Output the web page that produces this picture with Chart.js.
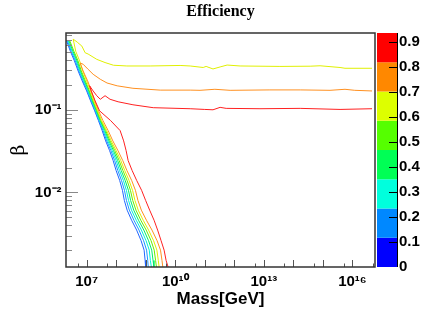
<!DOCTYPE html>
<html lang="en">

<head>
    <meta charset="UTF-8" />
    <title>Efficiency</title>
    <script src="https://cdn.jsdelivr.net/npm/chart.js"></script>
    <style>
        html, body { margin: 0; padding: 0; background: #ffffff; }
    </style>
</head>

<body>
    <canvas id="grafico" width="441" height="315"></canvas>

    <script>
        // axis ranges
        var massMin = 2.0e6, massMax = 5.8e16;
        var betaMin = 0.00125, betaMax = 0.85;

        // contour levels of the efficiency (colour bar) and its labels
        var levels = [0, 0.117, 0.234, 0.351, 0.468, 0.585, 0.702, 0.819, 0.936];
        var zTickValues = [0, 0.1, 0.2, 0.3, 0.4, 0.5, 0.6, 0.7, 0.8, 0.9];
        var massTickExps = [7, 10, 13, 16];
        var betaTickExps = [-1, -2];

        // beta values shared by the lines of the steep bundle (top to bottom)
        var betaGrid = [0.68, 0.51, 0.39, 0.295, 0.224, 0.169, 0.128, 0.097, 0.074, 0.056, 0.042, 0.032,
            0.0243, 0.0184, 0.014, 0.0106, 0.008, 0.0061, 0.0046, 0.0035, 0.0026, 0.002, 0.0015, 0.00125];

        // mass [GeV] of each contour along betaGrid
        var massLevel0 = [2.10e6, 2.81e6, 3.86e6, 5.15e6, 7.05e6, 1.00e7, 1.36e7, 1.87e7, 2.51e7, 3.35e7, 4.40e7, 6.00e7,
            7.89e7, 9.95e7, 1.31e8, 1.63e8, 1.89e8, 2.35e8, 3.33e8, 4.92e8, 6.98e8, 8.83e8, 9.55e8, 9.93e8];
        var massLevel1 = [2.24e6, 3.01e6, 4.15e6, 5.48e6, 7.50e6, 1.06e7, 1.43e7, 1.95e7, 2.62e7, 3.60e7, 4.79e7, 6.64e7,
            8.87e7, 1.14e8, 1.51e8, 1.91e8, 2.22e8, 2.79e8, 3.99e8, 5.93e8, 8.49e8, 1.07e9, 1.17e9, 1.22e9];
        var massLevel2 = [2.38e6, 3.23e6, 4.45e6, 5.83e6, 7.98e6, 1.11e7, 1.50e7, 2.05e7, 2.75e7, 3.85e7, 5.21e7, 7.35e7,
            9.98e7, 1.30e8, 1.75e8, 2.22e8, 2.62e8, 3.31e8, 4.78e8, 7.14e8, 1.03e9, 1.32e9, 1.44e9, 1.55e9];
        var massLevel3 = [2.54e6, 3.46e6, 4.76e6, 6.21e6, 8.49e6, 1.18e7, 1.57e7, 2.15e7, 2.88e7, 4.13e7, 5.69e7, 8.13e7,
            1.12e8, 1.48e8, 2.01e8, 2.60e8, 3.08e8, 3.93e8, 5.71e8, 8.63e8, 1.25e9, 1.60e9, 1.77e9, 1.90e9];
        var massLevel4 = [2.70e6, 3.72e6, 5.12e6, 6.61e6, 9.04e6, 1.24e7, 1.64e7, 2.25e7, 3.02e7, 4.44e7, 6.19e7, 8.99e7,
            1.26e8, 1.69e8, 2.33e8, 3.04e8, 3.63e8, 4.67e8, 6.82e8, 1.04e9, 1.52e9, 1.94e9, 2.16e9, 2.31e9];
        // lower branches of the three top levels start further down the grid
        var massLevel5Low = [4.28e6, 5.79e6, 7.38e6, 1.00e7, 1.35e7, 1.75e7, 2.36e7, 3.21e7, 4.80e7, 6.81e7, 1.00e8,
            1.43e8, 1.95e8, 2.72e8, 3.58e8, 4.32e8, 5.58e8, 8.24e8, 1.25e9, 1.85e9, 2.39e9, 2.67e9, 2.84e9];
        var massLevel6Low = [7.60e6, 1.08e7, 1.45e7, 1.89e7, 2.55e7, 3.56e7, 5.35e7, 7.71e7, 1.15e8, 1.67e8, 2.31e8,
            3.33e8, 4.49e8, 5.45e8, 7.11e8, 1.06e9, 1.63e9, 2.43e9, 3.17e9, 3.56e9, 3.79e9];
        var massLevel7Low = [1.42e7, 1.94e7, 2.75e7, 6.49e7, 1.36e8, 1.79e8, 2.17e8, 2.54e8, 3.47e8, 4.92e8, 7.26e8,
            9.93e8, 1.36e9, 1.92e9, 2.53e9, 3.32e9, 4.20e9, 4.90e9, 5.73e9];

        // flat upper branches, from the right edge back to the corner
        var massLevel5High = [4.6e16, 5.6e15, 3.8e15, 8.0e14, 3.7e14, 3.5e13, 1.57e12, 5.7e11, 3.3e11, 1.9e11, 1.11e11,
            8.8e10, 3.2e10, 1.46e10, 1.41e9, 2.3e8, 8.1e7, 4.2e7, 2.2e7, 1.12e7, 8.9e6, 6.9e6, 4.8e6, 3.5e6];
        var betaLevel5High = [0.318, 0.318, 0.325, 0.341, 0.337, 0.335, 0.339, 0.348, 0.330, 0.312, 0.335,
            0.325, 0.339, 0.344, 0.339, 0.339, 0.346, 0.373, 0.408, 0.473, 0.490, 0.590, 0.659, 0.716];
        var massLevel6High = [4.6e16, 1.2e16, 5.6e15, 1.74e15, 1.7e14, 1.6e13, 7.2e11, 2.2e11, 6.9e10, 3.2e10, 3.1e9,
            3.7e8, 1.08e8, 4.9e7, 2.9e7, 1.66e7, 1.12e7, 7.6e6, 6.0e6];
        var betaLevel6High = [0.169, 0.172, 0.177, 0.172, 0.174, 0.174, 0.172, 0.177, 0.172, 0.173, 0.173,
            0.182, 0.195, 0.211, 0.234, 0.269, 0.309, 0.356, 0.368];
        var massLevel7High = [4.6e16, 3.8e15, 1.7e14, 7.4e12, 5.3e11, 3.3e11, 1.9e11, 1.0e11, 3.2e10, 1.8e9, 3.7e8,
            1.16e8, 6.2e7, 4.2e7, 2.9e7, 2.2e7, 1.66e7, 1.26e7];
        var betaLevel7High = [0.103, 0.101, 0.104, 0.103, 0.104, 0.107, 0.100, 0.101, 0.103, 0.106, 0.115,
            0.125, 0.134, 0.148, 0.134, 0.148, 0.169, 0.195];

        var levelColors = ['#0000ff', '#0088ff', '#00ffdd', '#00ff55', '#55ff00', '#ddff00', '#ff8800', '#ff0000'];
        var lineColors = ['#2266ff', '#1a96ff', '#00f0d8', '#00ee66', '#66ee00', '#e0f000', '#ff9020', '#ff2020'];
        var fonteEixo = 'Liberation Sans, Arial, Helvetica, sans-serif';

        var supMap = { '0': '⁰', '1': '¹', '2': '²', '3': '³', '4': '⁴', '5': '⁵', '6': '⁶', '7': '⁷', '8': '⁸', '9': '⁹', '-': '⁻' };
        function pow10Label(e) {
            return '10' + String(e).split('').map(function (c) { return supMap[c]; }).join('');
        }

        function pts(masses, betas) {
            return masses.map(function (m, i) { return { x: m, y: betas[i] }; });
        }

        var contours = [
            pts(massLevel0, betaGrid),
            pts(massLevel1, betaGrid),
            pts(massLevel2, betaGrid),
            pts(massLevel3, betaGrid),
            pts(massLevel4, betaGrid),
            pts(massLevel5High, betaLevel5High).concat(pts(massLevel5Low, betaGrid.slice(1))),
            pts(massLevel6High, betaLevel6High).concat(pts(massLevel6Low, betaGrid.slice(3))),
            pts(massLevel7High, betaLevel7High).concat(pts(massLevel7Low, betaGrid.slice(5)))
        ];

        // higher levels are drawn on top, like ROOT does
        var datasets = contours.map(function (d, i) {
            return {
                label: 'z = ' + levels[i],
                data: d,
                showLine: true,
                borderColor: lineColors[i],
                borderWidth: 1,
                pointRadius: 0,
                tension: 0,
                order: contours.length - i
            };
        });

        // frame, inward ticks (ROOT style) and the colour palette
        var moldura = {
            id: 'moldura',
            afterDatasetsDraw: function (chart) {
                var ctx = chart.ctx, a = chart.chartArea;
                var sx = chart.scales.x, sy = chart.scales.y;
                ctx.save();
                ctx.lineWidth = 1;
                ctx.strokeStyle = '#555';
                sx.ticks.forEach(function (t) {
                    var px = Math.round(sx.getPixelForValue(t.value)) + 0.5;
                    ctx.beginPath();
                    ctx.moveTo(px, a.bottom);
                    ctx.lineTo(px, a.bottom - (t.big ? 7 : 3.5));
                    ctx.stroke();
                });
                ctx.strokeStyle = '#888';
                sy.ticks.forEach(function (t) {
                    var py = Math.round(sy.getPixelForValue(t.value)) + 0.5;
                    ctx.beginPath();
                    ctx.moveTo(a.left, py);
                    ctx.lineTo(a.left + (t.big ? 12 : 6), py);
                    ctx.stroke();
                });
                ctx.strokeStyle = '#333';
                ctx.lineWidth = 1.5;
                ctx.strokeRect(a.left, a.top, a.right - a.left, a.bottom - a.top);
                ctx.restore();
            },
            afterDraw: function (chart) {
                var ctx = chart.ctx, sz = chart.scales.z;
                var x0 = sz.left + 2, w = 20;
                ctx.save();
                for (var i = 0; i < levelColors.length; i++) {
                    var yA = sz.getPixelForValue(levels[i]);
                    var yB = sz.getPixelForValue(levels[i + 1]);
                    ctx.fillStyle = levelColors[i];
                    ctx.fillRect(x0, yB, w, yA - yB);
                }
                ctx.strokeStyle = '#000';
                ctx.lineWidth = 1;
                ctx.beginPath();
                ctx.moveTo(x0 + w + 0.5, sz.top);
                ctx.lineTo(x0 + w + 0.5, sz.bottom);
                ctx.stroke();
                sz.ticks.forEach(function (t) {
                    if (t.value === 0) return;
                    var py = Math.round(sz.getPixelForValue(t.value)) + 0.5;
                    ctx.beginPath();
                    ctx.moveTo(x0 + w - 8, py);
                    ctx.lineTo(x0 + w, py);
                    ctx.stroke();
                });
                ctx.restore();
            }
        };

        new Chart(document.getElementById('grafico'), {
            type: 'scatter',
            data: { datasets: datasets },
            plugins: [moldura],
            options: {
                responsive: false,
                animation: false,
                devicePixelRatio: 1,
                layout: { padding: 0 },
                plugins: {
                    legend: { display: false },
                    tooltip: { enabled: false },
                    title: {
                        display: true,
                        text: 'Efficiency',
                        color: '#000',
                        font: { family: 'Liberation Serif, Times New Roman, serif', weight: 'bold', size: 16 },
                        padding: { top: 1, bottom: 11.8 }
                    }
                },
                scales: {
                    x: {
                        type: 'logarithmic',
                        position: 'bottom',
                        min: massMin,
                        max: massMax,
                        afterBuildTicks: function (scale) {
                            var t = [];
                            for (var e = 6; e <= 16; e++) {
                                var a = Math.pow(10, e), b = 5 * Math.pow(10, e);
                                if (a >= scale.min && a <= scale.max) t.push({ value: a, big: true });
                                if (b >= scale.min && b <= scale.max) t.push({ value: b });
                            }
                            scale.ticks = t;
                        },
                        afterFit: function (scale) { scale.height = 48; },
                        grid: { display: false, drawTicks: false },
                        border: { display: false },
                        ticks: {
                            autoSkip: false,
                            maxRotation: 0,
                            padding: 6,
                            color: '#000',
                            font: { family: fonteEixo, weight: 'bold', size: 15 },
                            callback: function (v) {
                                var e = Math.round(Math.log10(v));
                                if (Math.abs(v / Math.pow(10, e) - 1) < 1e-6 && massTickExps.indexOf(e) >= 0) return pow10Label(e);
                                return '';
                            }
                        },
                        title: {
                            display: true,
                            text: 'Mass[GeV]',
                            color: '#000',
                            font: { family: fonteEixo, weight: 'bold', size: 17 },
                            padding: { top: 0, bottom: 5 }
                        }
                    },
                    y: {
                        type: 'logarithmic',
                        position: 'left',
                        min: betaMin,
                        max: betaMax,
                        afterBuildTicks: function (scale) {
                            var t = [];
                            for (var e = -3; e <= -1; e++) {
                                for (var m = 1; m <= 9; m++) {
                                    var v = m * Math.pow(10, e);
                                    if (v >= scale.min && v <= scale.max) t.push({ value: v, big: m === 1 });
                                }
                            }
                            scale.ticks = t;
                        },
                        afterFit: function (scale) { scale.width = 66; },
                        grid: { display: false, drawTicks: false },
                        border: { display: false },
                        ticks: {
                            autoSkip: false,
                            padding: 4.5,
                            color: '#000',
                            font: { family: fonteEixo, weight: 'bold', size: 15 },
                            callback: function (v) {
                                var e = Math.floor(Math.log10(v) + 1e-9);
                                var m = Math.round(v / Math.pow(10, e));
                                if (m === 1 && betaTickExps.indexOf(e) >= 0) return pow10Label(e);
                                return '';
                            }
                        },
                        title: {
                            display: true,
                            text: 'β',
                            color: '#000',
                            font: { family: 'DejaVu Serif, serif', size: 19 },
                            padding: { top: 8, bottom: 0 }
                        }
                    },
                    z: {
                        type: 'linear',
                        axis: 'y',
                        position: 'right',
                        min: levels[0],
                        max: levels[levels.length - 1],
                        afterBuildTicks: function (scale) {
                            scale.ticks = zTickValues.map(function (v) { return { value: v }; });
                        },
                        afterFit: function (scale) { scale.width = 66; },
                        grid: { display: false, drawTicks: false },
                        border: { display: false },
                        ticks: {
                            autoSkip: false,
                            includeBounds: false,
                            padding: 24,
                            color: '#000',
                            font: { family: fonteEixo, weight: 'bold', size: 15 },
                            callback: function (v) { return v === 0 ? '0' : v.toFixed(1); }
                        }
                    }
                }
            }
        });
    </script>
</body>

</html>
